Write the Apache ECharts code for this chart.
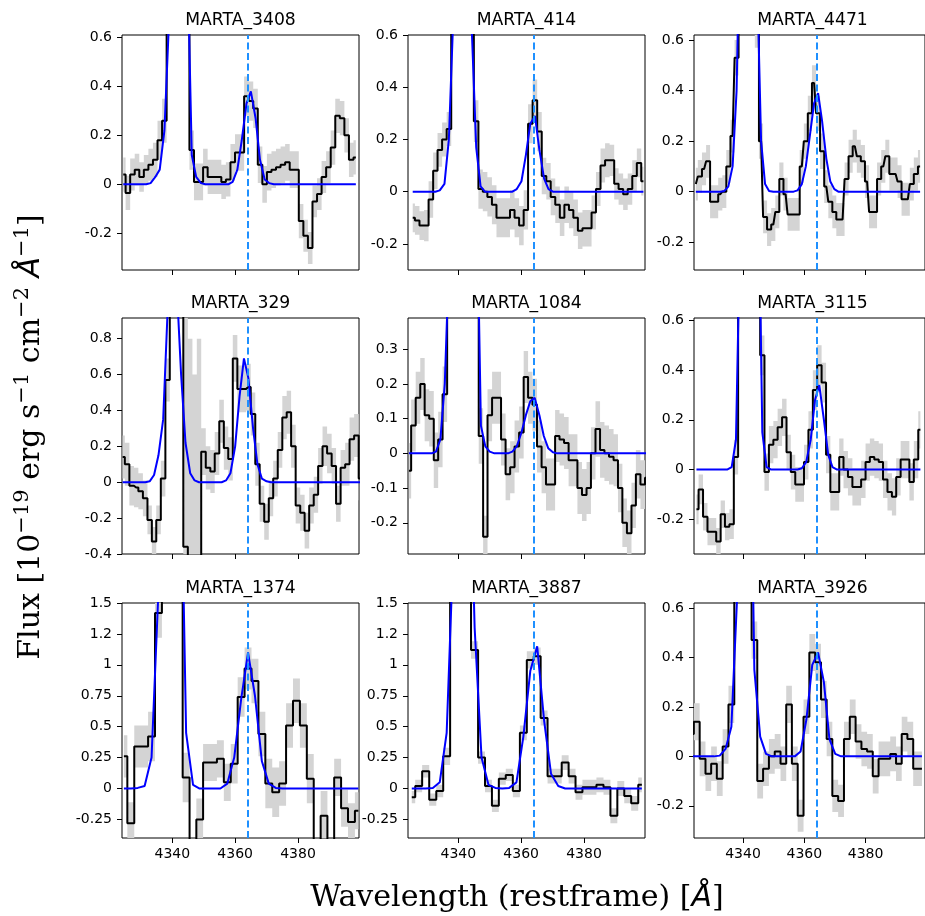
<!DOCTYPE html>
<html>
  <head>
    <title>[OIII] 4363 spectra</title>
    <meta charset="UTF-8" />
    <script src="https://cdn.jsdelivr.net/npm/echarts@6/dist/echarts.min.js"></script>
  </head>
  <body style="margin:0">
    <div id="main"></div>
    <script>
      // rest-frame wavelength (bin centres), flux, 1-sigma error and fitted model per object
      const wave3408 = [4324.4, 4325.9, 4327.3, 4328.8, 4330.2, 4331.7, 4333.1, 4334.6, 4336.0, 4337.5, 4338.9, 4340.4, 4341.8, 4343.3, 4344.7, 4346.2, 4347.6, 4349.1, 4350.5, 4352.0, 4353.4, 4354.9, 4356.3, 4357.8, 4359.2, 4360.7, 4362.1, 4363.6, 4365.0, 4366.5, 4367.9, 4369.4, 4370.8, 4372.3, 4373.7, 4375.2, 4376.6, 4378.1, 4379.5, 4381.0, 4382.4, 4383.9, 4385.3, 4386.8, 4388.2, 4389.7, 4391.1, 4392.6, 4394.0, 4395.5, 4396.9, 4398.4];
      const flux3408 = [0.04, -0.035, 0.04, 0.06, 0.03, 0.06, 0.08, 0.10, 0.18, 0.26, 0.9, 2.0, 2.4, 1.8, 0.8, 0.14, 0.01, 0.01, 0.07, 0.03, 0.03, 0.03, 0.01, 0.02, 0.09, 0.13, 0.13, 0.36, 0.34, 0.31, 0.08, 0.0, 0.05, 0.06, 0.07, 0.08, 0.09, 0.06, 0.06, -0.15, -0.21, -0.26, -0.07, -0.04, 0.03, 0.07, 0.15, 0.28, 0.27, 0.20, 0.10, 0.11];
      const err3408 = [0.07, 0.07, 0.065, 0.065, 0.06, 0.06, 0.065, 0.07, 0.08, 0.09, 0.1, 0.12, 0.12, 0.12, 0.1, 0.08, 0.075, 0.075, 0.075, 0.07, 0.07, 0.07, 0.07, 0.07, 0.075, 0.075, 0.075, 0.08, 0.08, 0.08, 0.075, 0.075, 0.075, 0.075, 0.075, 0.075, 0.075, 0.075, 0.075, 0.07, 0.065, 0.065, 0.065, 0.065, 0.065, 0.065, 0.07, 0.07, 0.07, 0.07, 0.07, 0.07];
      const model3408 = [0, 0, 0, 0, 0, 0, 0.005, 0.03, 0.06, 0.22, 0.65, 2.0, 2.8, 2.2, 1.0, 0.12, 0.03, 0.005, 0, 0, 0, 0, 0, 0, 0.01, 0.06, 0.18, 0.33, 0.38, 0.27, 0.1, 0.02, 0.005, 0, 0, 0, 0, 0, 0, 0, 0, 0, 0, 0, 0, 0, 0, 0, 0, 0, 0, 0];

      const wave414 = [4325.5, 4326.9, 4328.4, 4329.8, 4331.3, 4332.7, 4334.1, 4335.6, 4337.0, 4338.5, 4339.9, 4341.3, 4342.8, 4344.2, 4345.7, 4347.1, 4348.5, 4350.0, 4351.4, 4352.9, 4354.3, 4355.7, 4357.2, 4358.6, 4360.1, 4361.5, 4362.9, 4364.4, 4365.8, 4367.3, 4368.7, 4370.1, 4371.6, 4373.0, 4374.5, 4375.9, 4377.3, 4378.8, 4380.2, 4381.7, 4383.1, 4384.5, 4386.0, 4387.4, 4388.9, 4390.3, 4391.7, 4393.2, 4394.6, 4396.1, 4397.5, 4398.9];
      const flux414 = [-0.10, -0.11, -0.13, -0.13, -0.03, 0.08, 0.16, 0.20, 0.24, 1.0, 2.5, 3.0, 2.2, 0.8, 0.27, 0.01, 0.0, -0.02, -0.05, -0.10, -0.10, -0.10, -0.07, -0.10, -0.13, -0.07, 0.26, 0.35, 0.23, 0.06, 0.04, -0.02, -0.05, -0.10, -0.05, -0.07, -0.10, -0.15, -0.14, -0.14, -0.08, 0.01, 0.10, 0.12, 0.12, 0.03, 0.01, -0.01, 0.01, 0.06, 0.11, 0.04];
      const err414 = [0.055, 0.055, 0.055, 0.06, 0.07, 0.07, 0.065, 0.065, 0.065, 0.1, 0.12, 0.12, 0.12, 0.1, 0.08, 0.075, 0.075, 0.075, 0.075, 0.075, 0.075, 0.075, 0.075, 0.075, 0.075, 0.075, 0.075, 0.08, 0.075, 0.07, 0.07, 0.07, 0.07, 0.07, 0.07, 0.07, 0.07, 0.07, 0.07, 0.07, 0.065, 0.065, 0.065, 0.065, 0.06, 0.06, 0.06, 0.06, 0.06, 0.06, 0.055, 0.055];
      const model414 = [0, 0, 0, 0, 0, 0, 0.005, 0.03, 0.2, 0.7, 2.0, 3.0, 2.2, 0.65, 0.17, 0.02, 0, 0, 0, 0, 0, 0, 0, 0.01, 0.04, 0.14, 0.26, 0.29, 0.16, 0.05, 0.01, 0, 0, 0, 0, 0, 0, 0, 0, 0, 0, 0, 0, 0, 0, 0, 0, 0, 0, 0, 0, 0];

      const wave4471 = [4324.6, 4325.9, 4327.3, 4328.6, 4329.9, 4331.2, 4332.6, 4333.9, 4335.2, 4336.6, 4337.9, 4339.2, 4340.6, 4341.9, 4343.2, 4344.5, 4345.9, 4347.2, 4348.5, 4349.9, 4351.2, 4352.5, 4353.9, 4355.2, 4356.5, 4357.8, 4359.2, 4360.5, 4361.8, 4363.2, 4364.5, 4365.8, 4367.2, 4368.5, 4369.8, 4371.1, 4372.5, 4373.8, 4375.1, 4376.5, 4377.8, 4379.1, 4380.5, 4381.8, 4383.1, 4384.4, 4385.8, 4387.1, 4388.4, 4389.8, 4391.1, 4392.4, 4393.8, 4395.1, 4396.4, 4397.8];
      const flux4471 = [0.03, 0.06, 0.09, 0.12, -0.04, -0.04, -0.01, 0.0, 0.10, 0.22, 0.53, 1.0, 2.5, 3.0, 1.5, 0.65, 0.20, -0.10, -0.15, -0.13, -0.08, 0.05, -0.01, -0.09, -0.09, -0.09, 0.10, 0.20, 0.31, 0.43, 0.31, 0.16, 0.02, -0.04, -0.08, -0.11, -0.11, 0.05, 0.14, 0.18, 0.14, 0.12, 0.04, -0.08, -0.08, 0.05, 0.10, 0.14, 0.07, 0.07, 0.04, -0.03, -0.03, 0.03, 0.07, 0.10];
      const err4471 = [0.065, 0.065, 0.065, 0.065, 0.065, 0.065, 0.065, 0.065, 0.065, 0.065, 0.07, 0.1, 0.1, 0.1, 0.1, 0.08, 0.07, 0.065, 0.065, 0.065, 0.065, 0.065, 0.065, 0.065, 0.065, 0.065, 0.065, 0.07, 0.07, 0.07, 0.07, 0.07, 0.065, 0.065, 0.065, 0.065, 0.065, 0.065, 0.065, 0.065, 0.065, 0.065, 0.065, 0.065, 0.065, 0.065, 0.065, 0.065, 0.065, 0.065, 0.065, 0.065, 0.065, 0.065, 0.065, 0.065];
      const model4471 = [0, 0, 0, 0, 0, 0, 0, 0.003, 0.02, 0.1, 0.4, 1.2, 2.5, 3.2, 2.4, 0.9, 0.2, 0.03, 0.003, 0, 0, 0, 0, 0, 0, 0.005, 0.03, 0.1, 0.22, 0.35, 0.39, 0.28, 0.13, 0.04, 0.01, 0, 0, 0, 0, 0, 0, 0, 0, 0, 0, 0, 0, 0, 0, 0, 0, 0, 0, 0, 0, 0];

      const wave329 = [4324.2, 4325.6, 4327.1, 4328.5, 4329.9, 4331.4, 4332.8, 4334.2, 4335.6, 4337.1, 4338.5, 4339.9, 4341.4, 4342.8, 4344.2, 4345.7, 4347.1, 4348.5, 4349.9, 4351.4, 4352.8, 4354.2, 4355.7, 4357.1, 4358.5, 4360.0, 4361.4, 4362.8, 4364.2, 4365.7, 4367.1, 4368.5, 4370.0, 4371.4, 4372.8, 4374.3, 4375.7, 4377.1, 4378.5, 4380.0, 4381.4, 4382.8, 4384.3, 4385.7, 4387.1, 4388.5, 4390.0, 4391.4, 4392.8, 4394.3, 4395.7, 4397.1, 4398.6, 4400.0];
      const flux329 = [0.14, 0.10, -0.02, -0.03, -0.05, -0.09, -0.21, -0.33, -0.21, 0.02, 0.57, 1.5, 2.5, 1.8, -0.36, -0.6, -0.8, -0.6, 0.17, 0.08, 0.06, 0.16, 0.34, 0.19, 0.13, 0.69, 0.52, 0.52, 0.53, 0.38, 0.10, -0.12, -0.22, -0.09, 0.02, 0.18, 0.36, 0.39, 0.20, -0.13, -0.17, -0.27, -0.13, -0.07, 0.09, 0.20, 0.16, 0.09, -0.12, 0.08, 0.10, 0.24, 0.26, 0.02];
      const err329 = [0.12, 0.12, 0.11, 0.11, 0.1, 0.1, 0.08, 0.08, 0.08, 0.1, 0.12, 0.15, 0.2, 0.3, 1.4, 1.4, 1.4, 1.4, 0.13, 0.12, 0.12, 0.12, 0.12, 0.12, 0.12, 0.13, 0.13, 0.13, 0.13, 0.12, 0.12, 0.1, 0.1, 0.1, 0.1, 0.1, 0.12, 0.12, 0.12, 0.1, 0.1, 0.1, 0.1, 0.1, 0.1, 0.11, 0.11, 0.1, 0.1, 0.1, 0.12, 0.12, 0.12, 0.12];
      const model329 = [0, 0, 0, 0, 0, 0, 0.005, 0.04, 0.15, 0.35, 0.95, 1.6, 1.1, 0.6, 0.22, 0.05, 0.01, 0, 0, 0, 0, 0, 0, 0.01, 0.05, 0.2, 0.48, 0.69, 0.58, 0.3, 0.1, 0.02, 0.005, 0, 0, 0, 0, 0, 0, 0, 0, 0, 0, 0, 0, 0, 0, 0, 0, 0, 0, 0, 0, 0];

      const wave1084 = [4324.3, 4325.7, 4327.2, 4328.6, 4330.0, 4331.5, 4332.9, 4334.3, 4335.7, 4337.2, 4338.6, 4340.0, 4341.5, 4342.9, 4344.3, 4345.8, 4347.2, 4348.6, 4350.0, 4351.5, 4352.9, 4354.3, 4355.8, 4357.2, 4358.6, 4360.1, 4361.5, 4362.9, 4364.3, 4365.8, 4367.2, 4368.6, 4370.1, 4371.5, 4372.9, 4374.4, 4375.8, 4377.2, 4378.6, 4380.1, 4381.5, 4382.9, 4384.4, 4385.8, 4387.2, 4388.7, 4390.1, 4391.5, 4392.9, 4394.4, 4395.8, 4397.2, 4398.7, 4400.1];
      const flux1084 = [-0.05, 0.08, 0.16, 0.20, 0.11, 0.10, -0.02, 0.04, 0.17, 0.6, 1.5, 2.5, 3.0, 2.5, 1.5, 0.6, 0.05, -0.24, 0.11, 0.16, 0.16, 0.04, -0.06, -0.04, 0.02, 0.06, 0.22, 0.16, 0.14, 0.02, -0.04, -0.09, -0.09, 0.05, 0.04, 0.03, -0.02, -0.02, -0.10, -0.12, -0.10, 0.0, 0.07, 0.01, 0.0, -0.01, -0.02, -0.10, -0.20, -0.23, -0.15, -0.06, -0.09, -0.07];
      const err1084 = [0.08, 0.075, 0.075, 0.075, 0.075, 0.08, 0.08, 0.08, 0.08, 0.1, 0.12, 0.12, 0.12, 0.12, 0.12, 0.1, 0.08, 0.06, 0.075, 0.075, 0.075, 0.075, 0.075, 0.075, 0.075, 0.075, 0.075, 0.075, 0.075, 0.075, 0.075, 0.075, 0.075, 0.075, 0.075, 0.075, 0.075, 0.075, 0.075, 0.075, 0.075, 0.075, 0.08, 0.08, 0.08, 0.08, 0.075, 0.07, 0.07, 0.065, 0.065, 0.07, 0.07, 0.07];
      const model1084 = [0, 0, 0, 0, 0, 0, 0.005, 0.04, 0.2, 0.6, 1.5, 2.5, 3.0, 2.5, 1.6, 0.8, 0.08, 0.02, 0.005, 0, 0, 0, 0, 0.005, 0.02, 0.06, 0.11, 0.15, 0.16, 0.11, 0.05, 0.015, 0.003, 0, 0, 0, 0, 0, 0, 0, 0, 0, 0, 0, 0, 0, 0, 0, 0, 0, 0, 0, 0, 0];

      const wave3115 = [4324.8, 4326.2, 4327.7, 4329.1, 4330.5, 4332.0, 4333.4, 4334.8, 4336.3, 4337.7, 4339.1, 4340.6, 4342.0, 4343.4, 4344.9, 4346.3, 4347.7, 4349.2, 4350.6, 4352.0, 4353.5, 4354.9, 4356.3, 4357.8, 4359.2, 4360.6, 4362.1, 4363.5, 4364.9, 4366.4, 4367.8, 4369.2, 4370.7, 4372.1, 4373.5, 4375.0, 4376.4, 4377.8, 4379.3, 4380.7, 4382.1, 4383.6, 4385.0, 4386.4, 4387.9, 4389.3, 4390.7, 4392.2, 4393.6, 4395.0, 4396.5, 4397.9];
      const flux3115 = [-0.16, -0.08, -0.19, -0.25, -0.25, -0.29, -0.18, -0.23, -0.22, 0.05, 1.2, 2.5, 3.0, 2.5, 1.2, 0.46, -0.01, 0.10, 0.12, 0.17, 0.21, 0.07, -0.01, -0.06, -0.06, 0.03, 0.16, 0.32, 0.42, 0.35, 0.06, -0.09, -0.09, 0.05, 0.0, -0.03, -0.07, -0.07, -0.04, 0.03, 0.05, 0.04, 0.03, -0.04, -0.09, -0.11, -0.03, 0.04, 0.04, -0.05, 0.04, 0.16];
      const err3115 = [0.06, 0.06, 0.055, 0.055, 0.055, 0.055, 0.055, 0.055, 0.06, 0.07, 0.1, 0.12, 0.12, 0.12, 0.1, 0.08, 0.075, 0.075, 0.075, 0.075, 0.075, 0.07, 0.07, 0.07, 0.07, 0.07, 0.075, 0.08, 0.08, 0.08, 0.075, 0.075, 0.075, 0.075, 0.075, 0.075, 0.075, 0.075, 0.075, 0.075, 0.075, 0.075, 0.075, 0.075, 0.075, 0.075, 0.075, 0.075, 0.075, 0.075, 0.075, 0.075];
      const model3115 = [0, 0, 0, 0, 0, 0, 0, 0, 0.01, 0.12, 1.0, 2.5, 3.2, 2.6, 1.3, 0.15, 0.01, 0, 0, 0, 0, 0, 0, 0, 0.005, 0.03, 0.12, 0.28, 0.34, 0.2, 0.06, 0.01, 0, 0, 0, 0, 0, 0, 0, 0, 0, 0, 0, 0, 0, 0, 0, 0, 0, 0, 0, 0];

      const wave1374 = [4324.6, 4326.8, 4329.0, 4331.2, 4333.4, 4335.6, 4337.8, 4340.0, 4342.2, 4344.4, 4346.6, 4348.7, 4350.9, 4353.1, 4355.3, 4357.5, 4359.7, 4361.9, 4364.1, 4366.3, 4368.5, 4370.7, 4372.9, 4375.1, 4377.3, 4379.5, 4381.7, 4383.9, 4386.1, 4388.3, 4390.4, 4392.6, 4394.8, 4397.0, 4399.2];
      const flux1374 = [0.26, -0.28, 0.34, 0.34, 0.42, 1.42, 2.5, 3.5, 2.5, 0.09, -0.6, -0.25, 0.21, 0.21, 0.24, 0.05, 0.20, 0.74, 0.97, 0.87, 0.44, 0.04, -0.03, 0.04, 0.51, 0.71, 0.51, 0.08, -0.6, -0.22, -0.6, 0.09, -0.16, -0.27, -0.18];
      const err1374 = [0.17, 0.17, 0.17, 0.17, 0.2, 0.2, 0.25, 0.25, 0.25, 0.2, 0.2, 0.17, 0.15, 0.15, 0.15, 0.15, 0.16, 0.16, 0.17, 0.18, 0.18, 0.2, 0.2, 0.18, 0.18, 0.18, 0.18, 0.2, 0.2, 0.2, 0.2, 0.15, 0.15, 0.15, 0.15];
      const model1374 = [0, 0, 0.005, 0.02, 0.25, 1.6, 4.0, 5.0, 3.5, 0.45, 0.03, 0, 0, 0, 0, 0.04, 0.25, 0.72, 1.1, 0.75, 0.22, 0.04, 0.005, 0, 0, 0, 0, 0, 0, 0, 0, 0, 0, 0, 0];

      const wave3887 = [4325.2, 4327.4, 4329.6, 4331.9, 4334.1, 4336.3, 4338.5, 4340.7, 4342.9, 4345.2, 4347.4, 4349.6, 4351.8, 4354.0, 4356.2, 4358.5, 4360.7, 4362.9, 4365.1, 4367.3, 4369.5, 4371.8, 4374.0, 4376.2, 4378.4, 4380.6, 4382.8, 4385.1, 4387.3, 4389.5, 4391.7, 4393.9, 4396.1, 4398.4];
      const flux3887 = [-0.07, 0.02, 0.14, -0.09, -0.02, 0.26, 3.0, 4.0, 2.0, 1.12, 0.25, 0.02, -0.14, 0.08, 0.11, -0.02, 0.45, 1.04, 1.07, 0.57, 0.10, 0.10, 0.21, 0.10, -0.03, 0.01, 0.01, 0.03, 0.01, -0.22, 0.0, -0.06, -0.12, 0.03];
      const err3887 = [0.05, 0.05, 0.05, 0.05, 0.05, 0.07, 0.1, 0.1, 0.1, 0.07, 0.05, 0.05, 0.05, 0.05, 0.05, 0.05, 0.06, 0.07, 0.07, 0.06, 0.06, 0.06, 0.06, 0.06, 0.06, 0.06, 0.06, 0.06, 0.06, 0.06, 0.06, 0.06, 0.06, 0.06];
      const model3887 = [0, 0, 0, 0.005, 0.05, 0.45, 2.0, 4.0, 3.5, 1.3, 0.25, 0.03, 0.005, 0, 0.005, 0.05, 0.42, 0.95, 1.15, 0.55, 0.12, 0.02, 0, 0, 0, 0, 0, 0, 0, 0, 0, 0, 0, 0];

      const wave3926 = [4323.0, 4324.9, 4326.8, 4328.7, 4330.5, 4332.4, 4334.3, 4336.2, 4338.1, 4340.0, 4341.9, 4343.7, 4345.6, 4347.5, 4349.4, 4351.3, 4353.2, 4355.0, 4356.9, 4358.8, 4360.7, 4362.6, 4364.5, 4366.4, 4368.2, 4370.1, 4372.0, 4373.9, 4375.8, 4377.7, 4379.6, 4381.4, 4383.3, 4385.2, 4387.1, 4389.0, 4390.9, 4392.7, 4394.6, 4396.5, 4398.4];
      const flux3926 = [0.09, 0.14, -0.01, -0.07, -0.03, -0.09, 0.04, 0.21, 1.5, 2.5, 1.5, 0.47, -0.10, -0.05, 0.0, 0.02, -0.03, 0.21, -0.03, -0.24, 0.16, 0.42, 0.38, 0.23, 0.07, -0.16, -0.18, 0.07, 0.16, 0.06, 0.03, 0.02, -0.08, -0.01, -0.01, 0.01, -0.03, 0.09, 0.07, -0.05, -0.05];
      const err3926 = [0.07, 0.075, 0.07, 0.07, 0.07, 0.07, 0.07, 0.075, 0.1, 0.1, 0.1, 0.075, 0.07, 0.07, 0.07, 0.07, 0.07, 0.075, 0.07, 0.065, 0.07, 0.075, 0.075, 0.075, 0.07, 0.065, 0.065, 0.07, 0.07, 0.07, 0.07, 0.07, 0.07, 0.07, 0.07, 0.07, 0.07, 0.07, 0.07, 0.07, 0.07];
      const model3926 = [0, 0, 0, 0, 0, 0.003, 0.03, 0.12, 0.65, 3.0, 1.8, 0.35, 0.08, 0.01, 0, 0, 0, 0, 0, 0.02, 0.15, 0.37, 0.42, 0.3, 0.07, 0.01, 0, 0, 0, 0, 0, 0, 0, 0, 0, 0, 0, 0, 0, 0, 0];

      // tick positions and the labels matplotlib printed for them
      const xTicks = [4340, 4360, 4380];
      const yTicksA = [-0.2, 0, 0.2, 0.4, 0.6];
      const yLabelsA = ['-0.2', '0', '0.2', '0.4', '0.6'];
      const yTicks329 = [-0.4, -0.2, 0, 0.2, 0.4, 0.6, 0.8];
      const yLabels329 = ['-0.4', '-0.2', '0', '0.2', '0.4', '0.6', '0.8'];
      const yTicks1084 = [-0.2, -0.1, 0, 0.1, 0.2, 0.3];
      const yLabels1084 = ['-0.2', '-0.1', '0', '0.1', '0.2', '0.3'];
      const yTicksB = [-0.25, 0, 0.25, 0.5, 0.75, 1, 1.25, 1.5];
      const yLabelsB = ['-0.25', '0', '0.25', '0.5', '0.75', '1', '1.2', '1.5'];

      const oiii = 4364;
      const xMin = 4324;
      const xMax = 4399.4;

      const panels = [
        { name: 'MARTA_3408', wave: wave3408, flux: flux3408, err: err3408, model: model3408, yMin: -0.35, yMax: 0.61, ticks: yTicksA, labels: yLabelsA },
        { name: 'MARTA_414', wave: wave414, flux: flux414, err: err414, model: model414, yMin: -0.30, yMax: 0.60, ticks: yTicksA, labels: yLabelsA },
        { name: 'MARTA_4471', wave: wave4471, flux: flux4471, err: err4471, model: model4471, yMin: -0.31, yMax: 0.62, ticks: yTicksA, labels: yLabelsA },
        { name: 'MARTA_329', wave: wave329, flux: flux329, err: err329, model: model329, yMin: -0.40, yMax: 0.915, ticks: yTicks329, labels: yLabels329 },
        { name: 'MARTA_1084', wave: wave1084, flux: flux1084, err: err1084, model: model1084, yMin: -0.29, yMax: 0.39, ticks: yTicks1084, labels: yLabels1084 },
        { name: 'MARTA_3115', wave: wave3115, flux: flux3115, err: err3115, model: model3115, yMin: -0.34, yMax: 0.61, ticks: yTicksA, labels: yLabelsA },
        { name: 'MARTA_1374', wave: wave1374, flux: flux1374, err: err1374, model: model1374, yMin: -0.40, yMax: 1.50, ticks: yTicksB, labels: yLabelsB },
        { name: 'MARTA_3887', wave: wave3887, flux: flux3887, err: err3887, model: model3887, yMin: -0.40, yMax: 1.50, ticks: yTicksB, labels: yLabelsB },
        { name: 'MARTA_3926', wave: wave3926, flux: flux3926, err: err3926, model: model3926, yMin: -0.33, yMax: 0.62, ticks: yTicksA, labels: yLabelsA }
      ];

      const width = 925;
      const height = 916;
      const main = document.getElementById('main');
      main.style.width = `${width}px`;
      main.style.height = `${height}px`;

      const colLeft = [122, 408, 694];
      const rowTop = [35, 318, 603];
      const rowHeight = [235, 236, 235];
      const panelWidth = 237;
      const tickFont = { fontFamily: 'DejaVu Sans', fontSize: 14, color: '#000' };

      // stepped (steps-mid) error band, clamped to the axes box
      function bandRenderer(p) {
        return function (params, api) {
          const n = p.wave.length;
          const cx = x => Math.min(Math.max(x, xMin), xMax);
          const cy = y => Math.min(Math.max(y, p.yMin), p.yMax);
          const upper = [];
          const lower = [];
          for (let j = 0; j < n; j++) {
            const x0 = cx(j === 0 ? p.wave[0] : (p.wave[j - 1] + p.wave[j]) / 2);
            const x1 = cx(j === n - 1 ? p.wave[n - 1] : (p.wave[j] + p.wave[j + 1]) / 2);
            const hi = cy(p.flux[j] + p.err[j]);
            const lo = cy(p.flux[j] - p.err[j]);
            upper.push(api.coord([x0, hi]), api.coord([x1, hi]));
            lower.push(api.coord([x0, lo]), api.coord([x1, lo]));
          }
          return {
            type: 'polygon',
            shape: { points: upper.concat(lower.reverse()) },
            style: { fill: '#d4d4d4', stroke: null }
          };
        };
      }

      const grid = [];
      const xAxis = [];
      const yAxis = [];
      const series = [];
      const graphic = [];

      panels.forEach((p, i) => {
        const row = Math.floor(i / 3);
        const col = i % 3;
        const left = colLeft[col];
        const top = rowTop[row];
        grid.push({
          left: left, top: top, width: panelWidth, height: rowHeight[row],
          show: true, borderColor: '#000', borderWidth: 1, backgroundColor: 'transparent'
        });
        xAxis.push({
          type: 'value', gridIndex: i, min: xMin, max: xMax,
          axisLine: { show: false, onZero: false },
          splitLine: { show: false },
          axisTick: { show: true, inside: false, length: 5, customValues: xTicks, lineStyle: { color: '#000', width: 1 } },
          axisLabel: Object.assign({ show: row === 2, margin: 9, customValues: xTicks, formatter: v => String(v) }, tickFont)
        });
        yAxis.push({
          type: 'value', gridIndex: i, min: p.yMin, max: p.yMax,
          axisLine: { show: false, onZero: false },
          splitLine: { show: false },
          axisTick: { show: true, inside: false, length: 5, customValues: p.ticks, lineStyle: { color: '#000', width: 1 } },
          axisLabel: Object.assign({
            margin: 10, customValues: p.ticks, showMinLabel: true, showMaxLabel: true,
            formatter: v => p.labels[p.ticks.findIndex(t => Math.abs(t - v) < 1e-9)]
          }, tickFont)
        });

        series.push({
          type: 'custom', xAxisIndex: i, yAxisIndex: i, silent: true, z: 1,
          renderItem: bandRenderer(p),
          data: [[p.wave[1], 0]]
        });
        series.push({
          type: 'line', xAxisIndex: i, yAxisIndex: i, step: 'middle', symbol: 'none',
          silent: true, z: 2,
          lineStyle: { color: '#000', width: 2 },
          data: p.wave.map((x, j) => [x, p.flux[j]])
        });
        series.push({
          type: 'line', xAxisIndex: i, yAxisIndex: i, symbol: 'none',
          silent: true, z: 3,
          lineStyle: { color: '#0000ff', width: 2 },
          data: p.wave.map((x, j) => [x, p.model[j]])
        });
        series.push({
          type: 'line', xAxisIndex: i, yAxisIndex: i, symbol: 'none', silent: true, z: 4,
          data: [],
          markLine: {
            silent: true, symbol: 'none', animation: false,
            label: { show: false },
            lineStyle: { color: '#1e90ff', type: [7, 3.5], width: 2 },
            data: [{ xAxis: oiii }]
          }
        });

        graphic.push({
          type: 'text', x: left + panelWidth / 2, y: top - 14,
          style: {
            text: p.name, font: '17.2px "DejaVu Sans"', fill: '#000',
            textAlign: 'center', textVerticalAlign: 'middle', align: 'center', verticalAlign: 'middle'
          }
        });
      });

      const labelRich = {
        m: { fontFamily: 'DejaVu Serif', fontSize: 30, lineHeight: 37, color: '#000', verticalAlign: 'middle' },
        s: { fontFamily: 'DejaVu Serif', fontSize: 21, lineHeight: 37, color: '#000', verticalAlign: 'top' },
        a: { fontFamily: 'DejaVu Sans', fontStyle: 'italic', fontSize: 30, lineHeight: 37, color: '#000', verticalAlign: 'middle' }
      };

      graphic.push({
        type: 'text', x: 31, y: 437, rotation: Math.PI / 2,
        style: {
          text: '{m|Flux [10}{s|−19}{m| erg s}{s|−1}{m| cm}{s|−2}{m| }{a|Å}{s|−1}{m|]}',
          rich: labelRich,
          textAlign: 'center', textVerticalAlign: 'middle', align: 'center', verticalAlign: 'middle'
        }
      });
      graphic.push({
        type: 'text', x: 517, y: 898,
        style: {
          text: '{m|Wavelength (restframe) [}{a|Å}{m|]}',
          rich: labelRich,
          textAlign: 'center', textVerticalAlign: 'middle', align: 'center', verticalAlign: 'middle'
        }
      });

      const myChart = echarts.init(main);
      myChart.setOption({
        animation: false,
        backgroundColor: '#fff',
        grid: grid,
        xAxis: xAxis,
        yAxis: yAxis,
        series: series,
        graphic: graphic
      });
    </script>
  </body>
</html>
